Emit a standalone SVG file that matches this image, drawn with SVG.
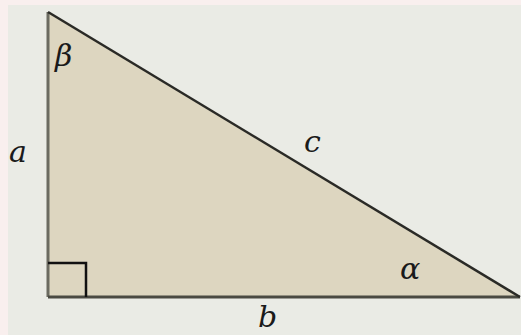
<svg xmlns="http://www.w3.org/2000/svg" width="521" height="335" viewBox="0 0 521 335">
<style>
.lbl{font-family:"DejaVu Serif","Liberation Serif",serif;font-style:italic;font-size:30px;fill:#1a1a1a}
</style>
<rect x="0" y="0" width="521" height="335" fill="#f9efee"/>
<rect x="8" y="5" width="513" height="330" fill="#eaebe5"/>
<g id="triangle">
<polygon points="48,12 48,297 520,297" fill="#ddd6c0"/>
<line x1="48" y1="12" x2="48" y2="297" stroke="#6b6a60" stroke-width="3"/>
<line x1="48" y1="297" x2="520" y2="297" stroke="#4a4a42" stroke-width="3"/>
<line x1="48" y1="12" x2="520" y2="297" stroke="#2a2a26" stroke-width="2.5"/>
<polyline points="48,263 86,263 86,297" fill="none" stroke="#111" stroke-width="2.5"/>
</g>
<g id="labels">
<text class="lbl" x="55" y="66">β</text>
<text class="lbl" x="9" y="162">a</text>
<text class="lbl" x="304" y="152">c</text>
<text class="lbl" x="400" y="279">α</text>
<text class="lbl" x="258" y="327">b</text>
</g>
</svg>
